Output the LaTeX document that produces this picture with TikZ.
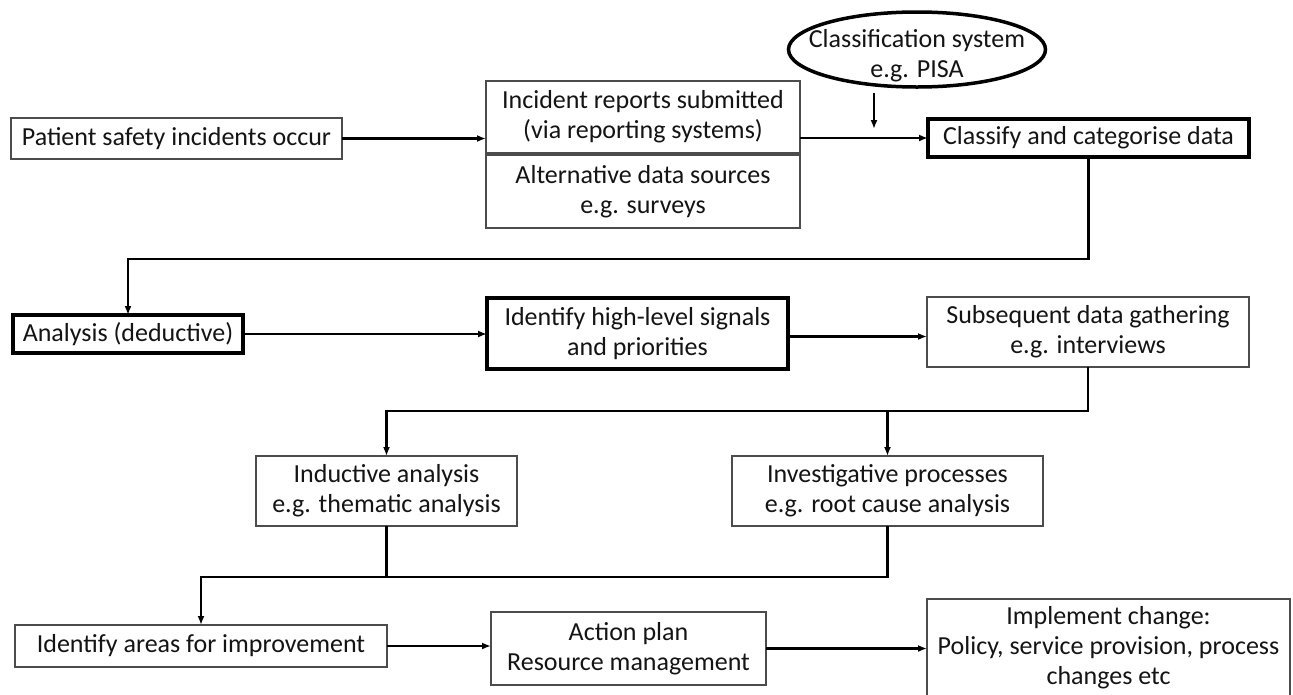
\documentclass[tikz,border=0pt]{standalone}
\usepackage{fontspec}
\setmainfont{Carlito}
\usetikzlibrary{arrows.meta,shapes.geometric,calc}
\begin{document}
\begin{tikzpicture}[x=1pt,y=-1pt,
  font=\fontsize{26}{30}\selectfont,
  thinbox/.style={rectangle, draw=black!70, line width=1.5pt, align=center, inner sep=0pt, outer sep=0pt, text=black!92},
  thickbox/.style={rectangle, draw=black, line width=4pt, align=center, inner sep=0pt, outer sep=0pt, text=black!92},
  arr/.style={line width=2.1pt, -{Latex[length=9pt,width=7pt]}},
  ln/.style={line width=2.1pt}
]
\useasboundingbox (0,0) rectangle (1293,694);
\clip (0,0) rectangle (1293,694);
\fill[white] (0,0) rectangle (1293,694);

% row 1
\node[thinbox, minimum width=331pt, minimum height=41pt] (pat) at (176.5,138.5) {Patient safety incidents occur};
\node[thinbox, minimum width=314pt, minimum height=72pt] (inc) at (643,117) {Incident reports submitted\\(via reporting systems)};
\node[thinbox, minimum width=314pt, minimum height=73pt] (alt) at (643,191.5) {Alternative data sources\\e.g. surveys};
\node[ellipse, draw=black, line width=3.5pt, minimum width=257pt, minimum height=75pt, inner sep=0pt, text=black!92] (cls) at (917,49.5) {\raisebox{-13pt}[0pt][0pt]{\makebox[0pt]{\begin{tabular}{@{}c@{}}Classification system\\e.g. PISA\end{tabular}}}};
\node[thickbox, minimum width=321pt, minimum height=38pt] (cat) at (1088.5,138) {Classify and categorise data};

% row 2
\node[thickbox, minimum width=230pt, minimum height=38pt] (ana) at (128,334) {Analysis (deductive)};
\node[thickbox, minimum width=301pt, minimum height=71pt] (hig) at (637.5,333.5) {Identify high-level signals\\and priorities};
\node[thinbox, minimum width=322pt, minimum height=70pt] (sub) at (1088,332) {Subsequent data gathering\\e.g. interviews};

% row 3
\node[thinbox, minimum width=261pt, minimum height=70pt] (ind) at (386.5,491) {Inductive analysis\\e.g. thematic analysis};
\node[thinbox, minimum width=311pt, minimum height=70pt] (inv) at (887.5,491) {Investigative processes\\e.g. root cause analysis};

% row 4
\node[thinbox, minimum width=372pt, minimum height=42pt] (are) at (201,646) {Identify areas for improvement};
\node[thinbox, minimum width=275pt, minimum height=73pt] (act) at (628.5,648.5) {Action plan\\Resource management};
\node[thinbox, minimum width=363pt, minimum height=98pt] (imp) at (1108.5,648) {Implement change:\\Policy, service provision, process\\changes etc};

% connectors
\coordinate (pisa) at (874,129);
\coordinate (top) at ($(cat.south)+(0,102)$);
\coordinate (split) at ($(sub.south)+(0,44)$);
\coordinate (mrg) at ($(ind.south)+(0,51)$);

\draw[arr] (pat.east) -- (pat.east -| inc.west);
\draw[arr] (cat.west -| inc.east) -- (cat.west);
\draw[arr] ([yshift=-4pt]pisa |- cls.south) -- (pisa);
\draw[arr] (cat.south) -- (top) -| (ana.north);
\draw[arr] (ana.east) -- (ana.east -| hig.west);
\draw[arr] ([yshift=-3pt]hig.east) -- ([yshift=-3pt]hig.east -| sub.west);
\draw[arr] (sub.south) -- (split) -| (ind.north);
\draw[arr] (inv.north |- split) -- (inv.north);
\draw[ln] (ind.south) -- (mrg);
\draw[arr] (inv.south) |- (mrg) -| (are.north);
\draw[arr] (are.east) -- (are.east -| act.west);
\draw[arr] (act.east) -- (act.east -| imp.west);
\end{tikzpicture}
\end{document}
